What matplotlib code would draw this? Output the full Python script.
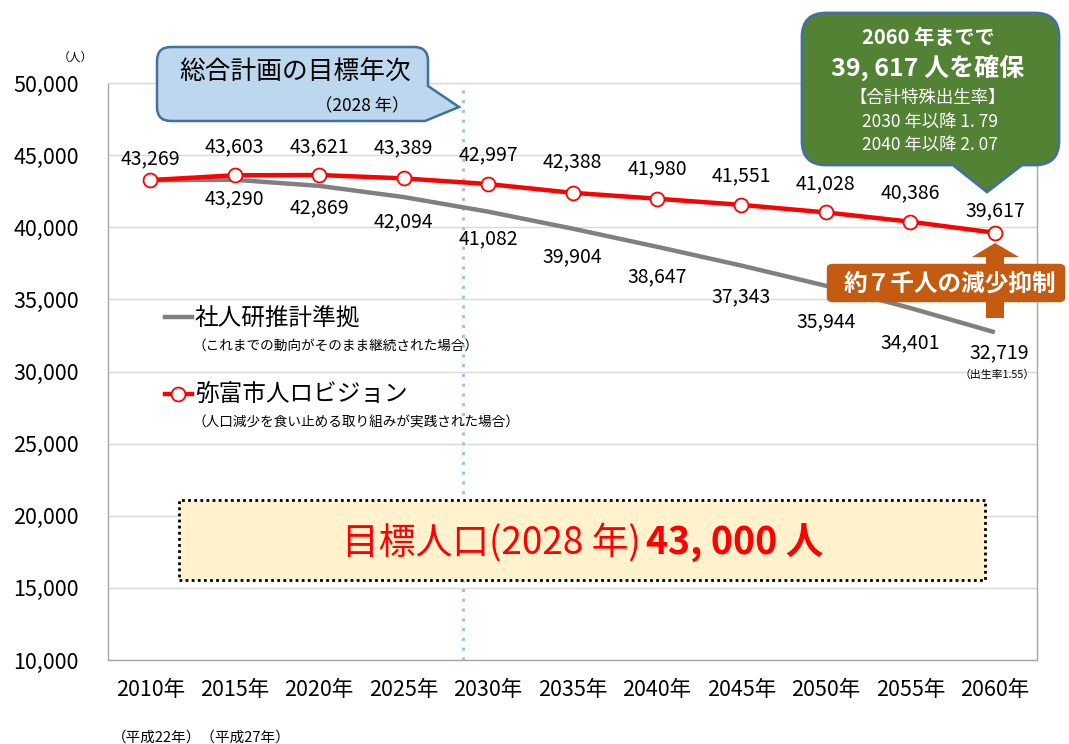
import numpy as np
import matplotlib
matplotlib.use("Agg")
import matplotlib.pyplot as plt
from matplotlib.path import Path
from matplotlib.patches import PathPatch, Polygon, Rectangle, FancyBboxPatch
from matplotlib.ticker import FuncFormatter

plt.rcParams['font.family'] = ['Noto Sans CJK JP', 'DejaVu Sans']

# ---- data ----
years = [2010, 2015, 2020, 2025, 2030, 2035, 2040, 2045, 2050, 2055, 2060]
year_labels = [f"{y}年" for y in years]
ipss_values = [43269, 43290, 42869, 42094, 41082, 39904, 38647, 37343, 35944, 34401, 32719]
vision_values = [43269, 43603, 43621, 43389, 42997, 42388, 41980, 41551, 41028, 40386, 39617]
yticks = [10000, 15000, 20000, 25000, 30000, 35000, 40000, 45000, 50000]
target_year_pos = 3.70   # 2028 (between 2025 and 2030 on the category axis)

# label offsets (pixels)
vision_dy = [21, 28, 28, 31, 29, 31, 30, 29, 29, 29, 22]
ipss_dy = [0, 19, 22, 25, 27, 28, 30, 31, 36, 35, 21]

W, H = 1069, 744
fig = plt.figure(figsize=(W / 100, H / 100), dpi=100)
ax = fig.add_axes([108 / W, 1 - 660 / H, (1037 - 108) / W, (660 - 83) / H])

x = np.arange(len(years))
ax.set_xlim(-0.5, len(years) - 0.5)
ax.set_ylim(10000, 50000)
ax.set_yticks(yticks)
ax.yaxis.set_major_formatter(FuncFormatter(lambda v, p: f"{int(v):,}"))
ax.set_xticks(x)
ax.set_xticklabels(year_labels)
ax.tick_params(axis='both', length=0, labelsize=15.5, colors='#000000')
ax.tick_params(axis='y', pad=21)
ax.tick_params(axis='x', pad=14)
ax.grid(axis='y', color='#D9D9D9', linewidth=1)
ax.set_axisbelow(True)
for s in ax.spines.values():
    s.set_color('#A6A6A6')
    s.set_linewidth(1)
ax.spines['top'].set_color('#D9D9D9')

ax.axvline(target_year_pos, color='#9DC3E6', linestyle=(0, (1, 2.2)), linewidth=2.2, zorder=1)

ax.plot(x, ipss_values, color='#808080', linewidth=3.2, zorder=2, solid_capstyle='butt')
ax.plot(x, vision_values, color='#FF0000', linewidth=3.2, zorder=3,
        marker='o', markersize=10, markerfacecolor='white', markeredgecolor='#FF0000',
        markeredgewidth=1.3)

for i, (xi, v) in enumerate(zip(x, vision_values)):
    ax.annotate(f"{v:,}", (xi, v), xytext=(0, vision_dy[i]), textcoords='offset pixels',
                ha='center', va='center', fontsize=14)
for i, (xi, v) in enumerate(zip(x, ipss_values)):
    if i == 0:
        continue
    dx = 4 if i == len(years) - 1 else 0
    ax.annotate(f"{v:,}", (xi, v), xytext=(dx, -ipss_dy[i]), textcoords='offset pixels',
                ha='center', va='center', fontsize=14)


def F(px, py):
    return (px / W, 1 - py / H)


def ftext(px, py, s, **kw):
    fig.text(px / W, 1 - py / H, s, **kw)


def rounded_path(pts, r):
    verts, codes = [], []
    n = len(pts)
    for i, (px, py, rd) in enumerate(pts):
        if rd:
            ax_, ay_, _ = pts[i - 1]
            bx_, by_, _ = pts[(i + 1) % n]
            d1 = np.hypot(ax_ - px, ay_ - py)
            d2 = np.hypot(bx_ - px, by_ - py)
            a = (px + (ax_ - px) * r / d1, py + (ay_ - py) * r / d1)
            b = (px + (bx_ - px) * r / d2, py + (by_ - py) * r / d2)
            verts += [a, (px, py), b]
            codes += [Path.LINETO, Path.CURVE3, Path.CURVE3]
        else:
            verts.append((px, py))
            codes.append(Path.LINETO)
    codes[0] = Path.MOVETO
    verts.append(verts[0])
    codes.append(Path.CLOSEPOLY)
    verts = [F(vx, vy) for vx, vy in verts]
    return Path(verts, codes)


# y unit label
ftext(75, 57, "（人）", fontsize=8.5, ha='center', va='center')

# Blue callout
blue = rounded_path([(157, 47, True), (428, 47, True), (428, 86, False), (459, 107, False),
                     (425, 121, False), (157, 121, True)], 14)
fig.patches.append(PathPatch(blue, transform=fig.transFigure, facecolor='#BDD7EE',
                             edgecolor='#41719C', linewidth=1.8, zorder=5))
ftext(295, 72, "総合計画の目標年次", fontsize=18.5, ha='center', va='center', zorder=6)
ftext(362, 106, "（2028 年）", fontsize=12.5, ha='center', va='center', zorder=6)

# Green callout
green = rounded_path([(802, 13, True), (1059, 13, True), (1059, 165, True), (1022, 165, False),
                      (987, 192, False), (953, 165, False), (802, 165, True)], 24)
fig.patches.append(PathPatch(green, transform=fig.transFigure, facecolor='#548235',
                             edgecolor='#41719C', linewidth=2, zorder=5))
ftext(928, 38, "2060 年までで", fontsize=14.5, color='white', weight='bold', ha='center', va='center', zorder=6)
ftext(928, 68, "39, 617 人を確保", fontsize=18, color='white', weight='bold', ha='center', va='center', zorder=6)
ftext(928, 98, "【合計特殊出生率】", fontsize=12.5, color='white', ha='center', va='center', zorder=6)
ftext(930, 122, "2030 年以降 1. 79", fontsize=12.5, color='white', ha='center', va='center', zorder=6)
ftext(930, 145, "2040 年以降 2. 07", fontsize=12.5, color='white', ha='center', va='center', zorder=6)

# Orange arrow and label
arrow_pts = [F(986, 318), F(1004, 318), F(1004, 257), F(1019, 257), F(995, 243), F(972, 257), F(986, 257)]
fig.patches.append(Polygon(arrow_pts, closed=True, transform=fig.transFigure,
                           facecolor='#C55A11', edgecolor='none', zorder=5))
ob = FancyBboxPatch(F(830, 300), (1062 - 830) / W, (300 - 266) / H,
                    boxstyle="round,pad=0.003,rounding_size=0.006", transform=fig.transFigure,
                    facecolor='#C55A11', edgecolor='none', zorder=6)
fig.patches.append(ob)
ftext(950, 284, "約７千人の減少抑制", fontsize=17, color='white', weight='bold', ha='center', va='center', zorder=7)

# Legend
fig.lines.append(plt.Line2D([165 / W, 192 / W], [1 - 317 / H] * 2, transform=fig.transFigure,
                            color='#808080', linewidth=3.2))
ftext(195, 318, "社人研推計準拠", fontsize=17, ha='left', va='center')
ftext(193, 346, "（これまでの動向がそのまま継続された場合）", fontsize=9.8, ha='left', va='center')
fig.lines.append(plt.Line2D([165 / W, 178 / W, 192 / W], [1 - 394 / H] * 3, transform=fig.transFigure,
                            color='#FF0000', linewidth=3.2, marker='o', markevery=[1], markersize=10,
                            markerfacecolor='white', markeredgecolor='#FF0000', markeredgewidth=1.3))
ftext(195, 394, "弥富市人ロビジョン", fontsize=17, ha='left', va='center')
ftext(193, 423, "（人口減少を食い止める取り組みが実践された場合）", fontsize=9.8, ha='left', va='center')

# Endpoint note
ftext(997, 375, "（出生率1.55）", fontsize=7.8, ha='center', va='center')

# Target box
fig.patches.append(Rectangle(F(179, 580), (985 - 179) / W, (580 - 500) / H, transform=fig.transFigure,
                             facecolor='#FFF2CC', edgecolor='#000000', linewidth=2,
                             linestyle=(0, (1, 1.2)), zorder=5))
ftext(641, 543, "目標人口(2028 年)", fontsize=26.5, color='#FF0000', ha='right', va='center', zorder=6)
ftext(646, 543, "43, 000 人", fontsize=27, color='#FF0000', weight='bold', ha='left', va='center', zorder=6)

# Era note
ftext(112, 738, "（平成22年）（平成27年）", fontsize=10.5, ha='left', va='center')

fig.savefig("out.png", dpi=100)
